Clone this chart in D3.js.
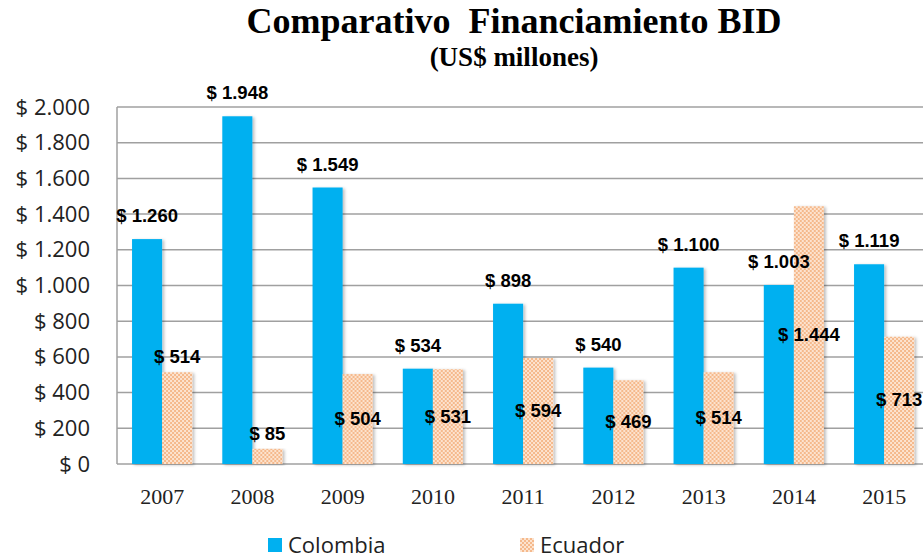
<!DOCTYPE html>
<html>
<head>
<meta charset="utf-8">
<script src="https://cdn.jsdelivr.net/npm/d3@7"></script>
<style>
  body { margin: 0; background: #fff; }
  svg { display: block; }
</style>
</head>
<body>
<div id="chart"></div>
<script>
// datos
const years = ["2007", "2008", "2009", "2010", "2011", "2012", "2013", "2014", "2015"];
const colombia = [1260, 1948, 1549, 534, 898, 540, 1100, 1003, 1119];
const ecuador = [514, 85, 504, 531, 594, 469, 514, 1444, 713];
const ecuadorLabelPos = ["end", "end", "center", "center", "center", "center", "center", "center", "center"];
const yTicks = [0, 200, 400, 600, 800, 1000, 1200, 1400, 1600, 1800, 2000];
const seriesNames = ["Colombia", "Ecuador"];

const W = 923, H = 560;
const margin = {left: 117, top: 107, bottom: 96};
const plotW = 9 * 90.25;

const svg = d3.select("#chart").append("svg")
  .attr("width", W).attr("height", H);

const defs = svg.append("defs");
let pat = defs.append("pattern")
  .attr("id", "dots")
  .attr("width", 4).attr("height", 4)
  .attr("patternUnits", "userSpaceOnUse");
pat.append("rect").attr("width", 4).attr("height", 4).attr("fill", "#fce3cf");
pat.append("rect").attr("x", 0).attr("y", 0).attr("width", 2).attr("height", 2).attr("fill", "#f5b98c");
pat.append("rect").attr("x", 2).attr("y", 2).attr("width", 2).attr("height", 2).attr("fill", "#f5b98c");

let shadow = defs.append("filter").attr("id", "shadow")
  .attr("x", "-20%").attr("y", "-5%").attr("width", "150%").attr("height", "115%");
shadow.append("feDropShadow")
  .attr("dx", 2).attr("dy", 1).attr("stdDeviation", 1.5)
  .attr("flood-color", "#000").attr("flood-opacity", 0.25);

const x0 = d3.scaleBand().domain(years)
  .range([margin.left, margin.left + plotW]).paddingInner(1/3).paddingOuter(1/6);
const x1 = d3.scaleBand().domain(seriesNames).range([0, x0.bandwidth()]);
const y = d3.scaleLinear().domain([0, 2000]).range([H - margin.bottom, margin.top]);

// lineas de grilla
svg.append("g").selectAll("line").data(yTicks).join("line")
  .attr("x1", margin.left).attr("x2", margin.left + plotW)
  .attr("y1", d => y(d)).attr("y2", d => y(d))
  .attr("stroke", "#a0a0a0").attr("stroke-width", 1.5);
svg.append("line")
  .attr("x1", margin.left).attr("x2", margin.left)
  .attr("y1", y(0)).attr("y2", y(2000))
  .attr("stroke", "#a0a0a0").attr("stroke-width", 1.5);

const fmt = v => "$ " + d3.format(",")(v).replace(/,/g, ".");

// eje y
const yAxis = d3.axisLeft(y).tickValues(yTicks).tickSize(0).tickPadding(0).tickFormat(fmt);
svg.append("g").attr("transform", `translate(${90},0)`).call(yAxis)
  .call(g => g.select(".domain").remove())
  .selectAll("text")
  .attr("font-family", "Open Sans, sans-serif")
  .attr("font-size", 22).attr("fill", "#222");

// eje x
const xAxis = d3.axisBottom(x0).tickSize(0).tickPadding(0);
svg.append("g").attr("transform", `translate(0,${y(0) + 24})`).call(xAxis)
  .call(g => g.select(".domain").remove())
  .selectAll("text")
  .attr("font-family", "Liberation Serif, Times New Roman, serif")
  .attr("font-size", 22).attr("fill", "#222");

// barras
const groups = svg.append("g").selectAll("g").data(years).join("g")
  .attr("transform", d => `translate(${x0(d)},0)`);

groups.append("rect")
  .attr("x", x1("Colombia")).attr("width", x1.bandwidth())
  .attr("y", (d, i) => y(colombia[i])).attr("height", (d, i) => y(0) - y(colombia[i]))
  .attr("fill", "#00b0f0").attr("filter", "url(#shadow)");
groups.append("rect")
  .attr("x", x1("Ecuador")).attr("width", x1.bandwidth())
  .attr("y", (d, i) => y(ecuador[i])).attr("height", (d, i) => y(0) - y(ecuador[i]))
  .attr("fill", "url(#dots)").attr("filter", "url(#shadow)");

// etiquetas de datos
const lblFont = "Liberation Sans, Arial, sans-serif";
groups.append("text")
  .attr("x", x1("Colombia") + x1.bandwidth() / 2)
  .attr("y", (d, i) => y(colombia[i]) - 17)
  .attr("text-anchor", "middle")
  .attr("font-family", lblFont).attr("font-weight", "bold").attr("font-size", 18.5)
  .text((d, i) => fmt(colombia[i]));
groups.append("text")
  .attr("x", x1("Ecuador") + x1.bandwidth() / 2)
  .attr("y", (d, i) => ecuadorLabelPos[i] == "end" ? y(ecuador[i]) - 9 : y(ecuador[i] / 2) + 6)
  .attr("text-anchor", "middle")
  .attr("font-family", lblFont).attr("font-weight", "bold").attr("font-size", 18.5)
  .text((d, i) => fmt(ecuador[i]));

// titulo
svg.append("text").attr("x", 514).attr("y", 33)
  .attr("text-anchor", "middle")
  .style("white-space", "pre")
  .attr("font-family", "Liberation Serif, Times New Roman, serif")
  .attr("font-weight", "bold").attr("font-size", 36)
  .text("Comparativo  Financiamiento BID");
svg.append("text").attr("x", 514).attr("y", 66)
  .attr("text-anchor", "middle")
  .attr("font-family", "Liberation Serif, Times New Roman, serif")
  .attr("font-weight", "bold").attr("font-size", 27)
  .text("(US$ millones)");

// leyenda
const legend = svg.append("g");
const legX = [268, 520];
legend.selectAll("rect").data(seriesNames).join("rect")
  .attr("x", (d, i) => legX[i]).attr("y", 538)
  .attr("width", 14).attr("height", 14)
  .attr("fill", (d, i) => i == 0 ? "#00b0f0" : "url(#dots)");
legend.selectAll("text").data(seriesNames).join("text")
  .attr("x", (d, i) => legX[i] + 20).attr("y", 553)
  .attr("font-family", "Open Sans, sans-serif")
  .attr("font-size", 22).attr("fill", "#222")
  .text(d => d);
</script>
</body>
</html>
